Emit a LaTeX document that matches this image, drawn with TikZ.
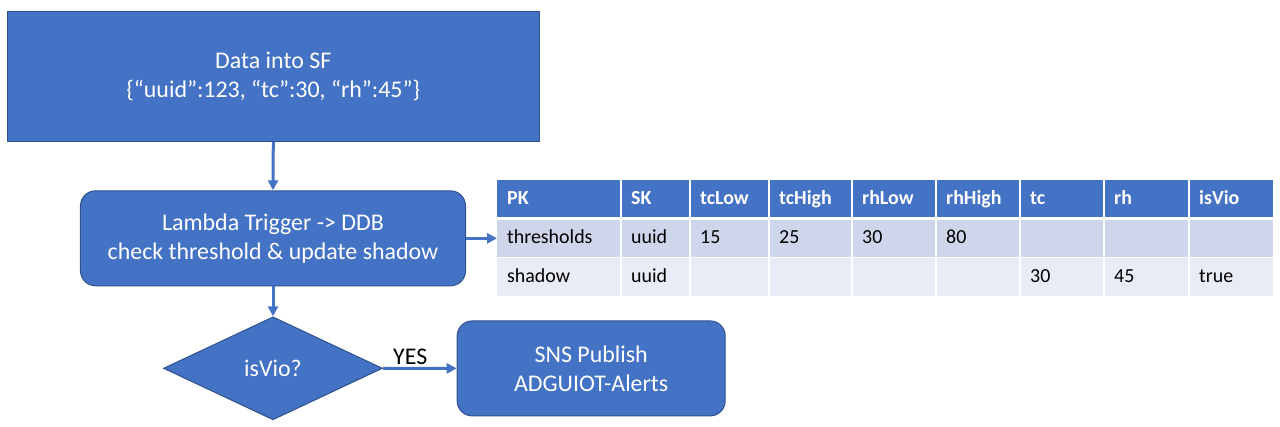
\documentclass[tikz,border=0pt]{standalone}
\usepackage{fontspec}
\setmainfont{Carlito}
\usetikzlibrary{shapes.geometric,arrows.meta}
\definecolor{officeblue}{HTML}{4472C4}
\definecolor{edgeblue}{HTML}{2F528F}
\definecolor{rowA}{HTML}{CFD5EA}
\definecolor{rowB}{HTML}{E9EBF5}
\tikzset{
  flowbox/.style={draw=edgeblue, line width=1bp, fill=officeblue, text=white, align=center,
    font=\fontsize{24}{29}\selectfont, inner sep=0pt},
  roundbox/.style={flowbox, rounded corners=15bp},
  decision/.style={flowbox, diamond, shape aspect=2.13},
  flow/.style={draw=officeblue, line width=3bp, -{Triangle[length=10bp,width=10bp]}},
  hdr/.style={anchor=base west, inner sep=0pt, text=white, font=\fontsize{20}{24}\selectfont\bfseries},
  celltxt/.style={anchor=base west, inner sep=0pt, text=black, font=\fontsize{20}{24}\selectfont},
  lbl/.style={inner sep=0pt, text=black, font=\fontsize{24}{29}\selectfont},
}
\begin{document}
\begin{tikzpicture}[x=1bp,y=-1bp]
\useasboundingbox (0,0) rectangle (1280,426);
% nodes
\node[flowbox, minimum width=532bp, minimum height=130bp] (data) at (273.3,76.7)
  {Data into SF\\\{“uuid”:123, “tc”:30, “rh”:45”\}};
\node[roundbox, minimum width=385bp, minimum height=95bp] (lambda) at (273,238.3)
  {Lambda Trigger -> DDB\\check threshold \& update shadow};
\node[decision, minimum width=219bp, minimum height=103bp] (vio) at (273,368.3) {isVio?};
\node[roundbox, minimum width=268bp, minimum height=95bp] (sns) at (591.2,368.4)
  {SNS Publish\\ADGUIOT-Alerts};
% table
\fill[officeblue] (497,180) rectangle (1273,217);
\fill[rowA] (497,220) rectangle (1273,256.6);
\fill[rowB] (497,257.6) rectangle (1273,296);
\foreach \x in {621,690,769,852,936,1020,1104,1189}
  \draw[white, line width=2bp] (\x,180) -- (\x,296);
\coordinate (tblin) at (497,238.3);
% header
\node[hdr] (hPK) at (507,204.5) {PK};
\node[hdr] (hSK) at (631,204.5) {SK};
\node[hdr] (hTL) at (700,204.5) {tcLow};
\node[hdr] (hTH) at (779,204.5) {tcHigh};
\node[hdr] (hRL) at (862,204.5) {rhLow};
\node[hdr] (hRH) at (946,204.5) {rhHigh};
\node[hdr] (hTC) at (1030,204.5) {tc};
\node[hdr] (hRHv) at (1114,204.5) {rh};
\node[hdr] (hIV) at (1199,204.5) {isVio};
% row 1
\node[celltxt] (r1a) at (507,243) {thresholds};
\node[celltxt] (r1b) at (631,243) {uuid};
\node[celltxt] (r1c) at (700,243) {15};
\node[celltxt] (r1d) at (779,243) {25};
\node[celltxt] (r1e) at (862,243) {30};
\node[celltxt] (r1f) at (946,243) {80};
% row 2
\node[celltxt] (r2a) at (507,282) {shadow};
\node[celltxt] (r2b) at (631,282) {uuid};
\node[celltxt] (r2g) at (1030,282) {30};
\node[celltxt] (r2h) at (1114,282) {45};
\node[celltxt] (r2i) at (1199,282) {true};
% connectors
\draw[flow] (data.south) -- (lambda.north);
\draw[flow] (lambda.south) -- (vio.north);
\draw[flow] (lambda.east) -- (tblin);
\draw[flow] (vio.east) -- node[lbl, above=2bp, pos=0.37] (yes) {YES} (sns.west);
\end{tikzpicture}
\end{document}
